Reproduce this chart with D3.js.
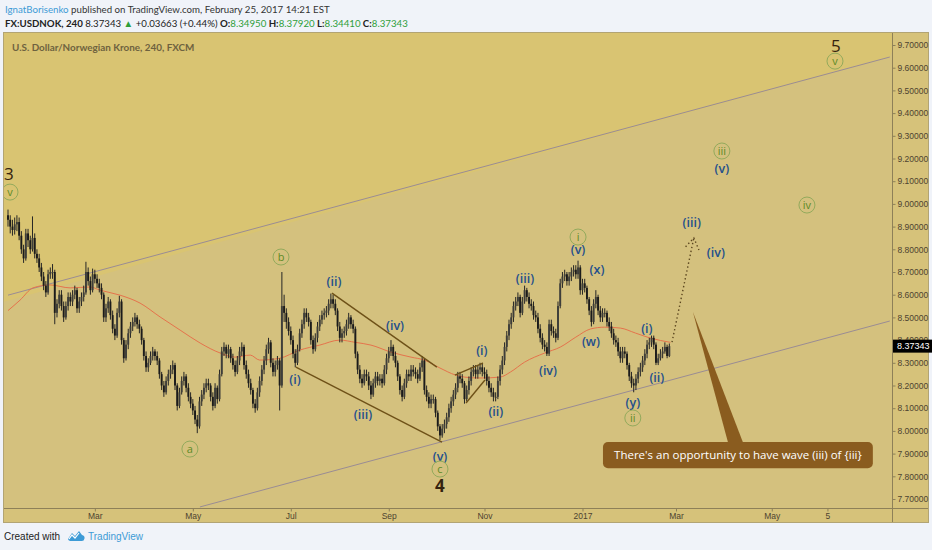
<!DOCTYPE html>
<html>
<head>
<meta charset="utf-8">
<script src="https://cdnjs.cloudflare.com/ajax/libs/d3/7.8.5/d3.min.js"></script>
<style>
  body { margin: 0; background: #f0f3f9; }
  svg { display: block; }
</style>
</head>
<body>
<div id="chart"></div>
<script>
// ---- data ----
// one daily bar per weekday, first bar 2016-01-06
var firstDay = "2016-01-06";
var lastDay = "2017-07-14";   // right edge of the time axis
var firstOpen = 8.95;

var closes = [
  8.93, 8.90, 8.885, 8.91, 8.92, 8.86, 8.80, 8.76, 8.87, 8.84,
  8.80, 8.85, 8.78, 8.76, 8.72, 8.68, 8.64, 8.61, 8.69, 8.70,
  8.70, 8.52, 8.56, 8.60, 8.55, 8.50, 8.55, 8.59, 8.57, 8.60,
  8.62, 8.54, 8.57, 8.59, 8.61, 8.70, 8.66, 8.62, 8.69, 8.67,
  8.65, 8.63, 8.60, 8.50, 8.54, 8.57, 8.51, 8.45, 8.42, 8.52,
  8.57, 8.40, 8.32, 8.38, 8.43, 8.46, 8.48, 8.50, 8.47, 8.45,
  8.40, 8.33, 8.28, 8.30, 8.33, 8.35, 8.33, 8.31, 8.25, 8.20,
  8.17, 8.22, 8.25, 8.27, 8.29, 8.20, 8.11, 8.17, 8.22, 8.24,
  8.19, 8.15, 8.12, 8.09, 8.05, 8.02, 8.13, 8.16, 8.19, 8.21,
  8.20, 8.15, 8.11, 8.19, 8.14, 8.25, 8.35, 8.37, 8.34, 8.36,
  8.32, 8.29, 8.26, 8.31, 8.35, 8.37, 8.29, 8.25, 8.21, 8.18,
  8.12, 8.10, 8.17, 8.22, 8.27, 8.31, 8.36, 8.39, 8.30, 8.26,
  8.29, 8.31, 8.20, 8.55, 8.52, 8.48, 8.44, 8.40, 8.34, 8.30,
  8.36, 8.43, 8.47, 8.52, 8.50, 8.48, 8.40, 8.36, 8.41, 8.46,
  8.49, 8.51, 8.52, 8.53, 8.56, 8.58, 8.56, 8.53, 8.46, 8.41,
  8.43, 8.44, 8.47, 8.50, 8.47, 8.45, 8.34, 8.27, 8.23, 8.21,
  8.25, 8.24, 8.20, 8.16, 8.21, 8.24, 8.22, 8.23, 8.21, 8.27,
  8.32, 8.35, 8.37, 8.33, 8.30, 8.24, 8.18, 8.15, 8.21, 8.25,
  8.24, 8.27, 8.26, 8.25, 8.23, 8.28, 8.31, 8.18, 8.15, 8.12,
  8.14, 8.14, 8.08, 8.02, 7.98, 8.01, 8.03, 8.06, 8.10, 8.13,
  8.16, 8.19, 8.24, 8.23, 8.21, 8.14, 8.18, 8.22, 8.26, 8.27,
  8.25, 8.27, 8.28, 8.26, 8.25, 8.22, 8.19, 8.17, 8.15, 8.15,
  8.22, 8.27, 8.31, 8.37, 8.42, 8.47, 8.50, 8.55, 8.57, 8.59,
  8.52, 8.57, 8.62, 8.59, 8.56, 8.55, 8.51, 8.50, 8.45, 8.41,
  8.38, 8.37, 8.34, 8.47, 8.44, 8.43, 8.41, 8.55, 8.65, 8.68,
  8.69, 8.66, 8.68, 8.70, 8.71, 8.69, 8.72, 8.62, 8.65, 8.63,
  8.58, 8.53, 8.48, 8.56, 8.59, 8.53, 8.50, 8.52, 8.52, 8.48,
  8.46, 8.43, 8.40, 8.39, 8.35, 8.32, 8.35, 8.34, 8.29, 8.24,
  8.21, 8.20, 8.23, 8.26, 8.28, 8.31, 8.34, 8.38, 8.39, 8.41,
  8.38, 8.30, 8.32, 8.34, 8.35, 8.37, 8.33, 8.37343
];

var highs = [
  8.975, 8.95, 8.93, 8.94, 8.95, 8.94, 8.88, 8.82, 8.89, 8.89,
  8.86, 8.945, 8.87, 8.80, 8.78, 8.74, 8.70, 8.66, 8.71, 8.72,
  8.735, 8.71, 8.58, 8.62, 8.62, 8.57, 8.57, 8.61, 8.61, 8.62,
  8.64, 8.63, 8.59, 8.61, 8.64, 8.745, 8.72, 8.68, 8.715, 8.71,
  8.69, 8.67, 8.65, 8.61, 8.56, 8.59, 8.58, 8.53, 8.47, 8.54,
  8.595, 8.58, 8.41, 8.40, 8.45, 8.48, 8.50, 8.52, 8.51, 8.49,
  8.46, 8.41, 8.35, 8.32, 8.35, 8.37, 8.36, 8.35, 8.32, 8.26,
  8.22, 8.24, 8.27, 8.29, 8.31, 8.30, 8.21, 8.19, 8.24, 8.26,
  8.25, 8.21, 8.17, 8.14, 8.11, 8.07, 8.15, 8.18, 8.21, 8.23,
  8.23, 8.21, 8.17, 8.21, 8.20, 8.27, 8.37, 8.39, 8.38, 8.38,
  8.37, 8.34, 8.31, 8.33, 8.37, 8.39, 8.38, 8.31, 8.27, 8.23,
  8.19, 8.14, 8.19, 8.24, 8.29, 8.33, 8.38, 8.41, 8.40, 8.32,
  8.31, 8.33, 8.32, 8.70, 8.60, 8.54, 8.50, 8.46, 8.42, 8.36,
  8.38, 8.45, 8.49, 8.54, 8.54, 8.52, 8.49, 8.42, 8.43, 8.48,
  8.51, 8.53, 8.54, 8.55, 8.58, 8.605, 8.60, 8.58, 8.54, 8.48,
  8.45, 8.46, 8.49, 8.52, 8.51, 8.49, 8.46, 8.35, 8.29, 8.25,
  8.27, 8.27, 8.26, 8.22, 8.23, 8.26, 8.26, 8.25, 8.25, 8.29,
  8.34, 8.37, 8.40, 8.38, 8.35, 8.31, 8.25, 8.20, 8.23, 8.27,
  8.27, 8.29, 8.29, 8.28, 8.27, 8.30, 8.33, 8.32, 8.20, 8.17,
  8.16, 8.16, 8.15, 8.09, 8.03, 8.03, 8.05, 8.08, 8.12, 8.15,
  8.18, 8.21, 8.26, 8.26, 8.25, 8.22, 8.20, 8.24, 8.28, 8.29,
  8.29, 8.29, 8.30, 8.30, 8.28, 8.27, 8.24, 8.21, 8.19, 8.17,
  8.24, 8.29, 8.33, 8.39, 8.44, 8.49, 8.52, 8.57, 8.59, 8.61,
  8.60, 8.59, 8.64, 8.63, 8.61, 8.58, 8.57, 8.53, 8.52, 8.47,
  8.43, 8.40, 8.39, 8.49, 8.49, 8.46, 8.45, 8.57, 8.67, 8.70,
  8.71, 8.70, 8.70, 8.72, 8.73, 8.73, 8.75, 8.73, 8.67, 8.67,
  8.64, 8.59, 8.55, 8.58, 8.62, 8.60, 8.55, 8.54, 8.54, 8.53,
  8.50, 8.48, 8.45, 8.42, 8.41, 8.37, 8.37, 8.37, 8.35, 8.30,
  8.26, 8.23, 8.25, 8.28, 8.30, 8.33, 8.36, 8.40, 8.41, 8.42,
  8.42, 8.39, 8.34, 8.36, 8.37, 8.39, 8.38, 8.385
];

var lows = [
  8.90, 8.87, 8.86, 8.865, 8.88, 8.84, 8.78, 8.74, 8.75, 8.81,
  8.78, 8.79, 8.76, 8.74, 8.70, 8.66, 8.62, 8.59, 8.60, 8.67,
  8.67, 8.47, 8.50, 8.54, 8.53, 8.48, 8.49, 8.53, 8.55, 8.55,
  8.58, 8.52, 8.52, 8.55, 8.57, 8.60, 8.64, 8.60, 8.61, 8.65,
  8.63, 8.61, 8.58, 8.48, 8.48, 8.52, 8.49, 8.43, 8.40, 8.41,
  8.50, 8.38, 8.30, 8.31, 8.36, 8.41, 8.44, 8.46, 8.45, 8.43,
  8.38, 8.31, 8.26, 8.26, 8.29, 8.31, 8.31, 8.29, 8.23, 8.18,
  8.15, 8.16, 8.20, 8.23, 8.25, 8.18, 8.09, 8.10, 8.16, 8.20,
  8.17, 8.13, 8.10, 8.07, 8.03, 7.99, 8.01, 8.11, 8.14, 8.17,
  8.18, 8.13, 8.09, 8.10, 8.12, 8.13, 8.24, 8.33, 8.32, 8.32,
  8.30, 8.27, 8.24, 8.25, 8.29, 8.33, 8.27, 8.23, 8.19, 8.16,
  8.10, 8.08, 8.09, 8.15, 8.20, 8.25, 8.29, 8.34, 8.28, 8.24,
  8.24, 8.27, 8.09, 8.19, 8.48, 8.45, 8.42, 8.38, 8.32, 8.28,
  8.29, 8.35, 8.41, 8.45, 8.48, 8.46, 8.38, 8.34, 8.35, 8.39,
  8.44, 8.47, 8.49, 8.50, 8.51, 8.54, 8.54, 8.51, 8.44, 8.39,
  8.39, 8.41, 8.42, 8.45, 8.45, 8.43, 8.32, 8.25, 8.21, 8.19,
  8.20, 8.22, 8.18, 8.14, 8.15, 8.19, 8.20, 8.20, 8.19, 8.20,
  8.25, 8.30, 8.33, 8.31, 8.28, 8.22, 8.16, 8.13, 8.14, 8.19,
  8.22, 8.22, 8.24, 8.23, 8.21, 8.22, 8.26, 8.16, 8.13, 8.10,
  8.10, 8.12, 8.06, 8.00, 7.96, 7.97, 7.99, 8.01, 8.04, 8.08,
  8.11, 8.14, 8.17, 8.21, 8.19, 8.12, 8.13, 8.16, 8.20, 8.24,
  8.23, 8.23, 8.25, 8.24, 8.23, 8.20, 8.17, 8.15, 8.13, 8.13,
  8.14, 8.20, 8.25, 8.29, 8.35, 8.40, 8.45, 8.48, 8.53, 8.55,
  8.50, 8.51, 8.56, 8.57, 8.54, 8.53, 8.49, 8.48, 8.43, 8.39,
  8.36, 8.35, 8.33, 8.33, 8.42, 8.41, 8.39, 8.40, 8.54, 8.63,
  8.66, 8.64, 8.64, 8.66, 8.68, 8.67, 8.67, 8.60, 8.60, 8.61,
  8.56, 8.51, 8.46, 8.47, 8.54, 8.51, 8.48, 8.48, 8.50, 8.46,
  8.44, 8.41, 8.38, 8.37, 8.33, 8.30, 8.30, 8.32, 8.27, 8.22,
  8.19, 8.17, 8.18, 8.21, 8.24, 8.26, 8.29, 8.32, 8.36, 8.37,
  8.36, 8.29, 8.29, 8.31, 8.32, 8.34, 8.32, 8.325
];

// moving average (red line), read at a handful of bars
var maBars   = [0, 5.4, 11.2, 18.9, 27.9, 36.9, 41.3, 50.3, 59.3, 68.3, 77.3, 86.3, 95.3, 102, 108.8,
                113, 122, 131, 140, 149, 156, 163, 172, 181, 187, 194, 201, 205, 212, 221,
                225.6, 232, 241, 248, 255, 261.6, 268, 275, 281.8, 288.5, 297.5];
var maValues = [8.53, 8.576, 8.63, 8.643, 8.63, 8.634, 8.62, 8.598, 8.563, 8.502, 8.444, 8.387, 8.343, 8.325, 8.334,
                8.312, 8.32, 8.356, 8.378, 8.40, 8.39, 8.378, 8.347, 8.325, 8.312, 8.277, 8.246, 8.237, 8.233, 8.237,
                8.259, 8.303, 8.343, 8.369, 8.413, 8.449, 8.457, 8.453, 8.431, 8.409, 8.39];

var priceTicks = [7.7, 7.8, 7.9, 8.0, 8.1, 8.2, 8.3, 8.4, 8.5, 8.6, 8.7, 8.8, 8.9, 9.0, 9.1, 9.2, 9.3, 9.4, 9.5, 9.6, 9.7];
var timeTicks = ["2016-03-01", "2016-05-02", "2016-07-01", "2016-09-01", "2016-11-01", "2017-01-02", "2017-03-01", "2017-05-01", "2017-06-05"];
var timeLabels = ["Mar", "May", "Jul", "Sep", "Nov", "2017", "Mar", "May", "5"];
var lastPrice = 8.37343;

// drawings, in [bar, price]
var channelUpper = [[0, 8.598], [396, 9.647]];
var channelLower = [[86.2, 7.665], [396, 8.484]];
var wedgeLines = [
  [[145.5, 8.607], [192.6, 8.281]],
  [[129.3, 8.281], [194.9, 7.951]],
  [[200.7, 8.246], [213.3, 8.299]],
  [[205.7, 8.123], [214.2, 8.224]]
];
var arrowPath = [[298.2, 8.391], [308.0, 8.850]];
var arrowHead = [[304.3, 8.811], [308.0, 8.850], [310.3, 8.797]];

// wave labels: text, bar, price
var blueLabels = [
  ["(ii)", 146.4, 8.660], ["(iv)", 173.8, 8.466], ["(i)", 128.9, 8.228], ["(iii)", 159.4, 8.074],
  ["(v)", 194, 7.889], ["(i)", 212.8, 8.356], ["(ii)", 219.1, 8.087], ["(iii)", 232.2, 8.673],
  ["(iv)", 242.5, 8.268], ["(v)", 256, 8.797], ["(x)", 264.5, 8.709], ["(w)", 261.8, 8.396],
  ["(i)", 286.9, 8.453], ["(ii)", 291.4, 8.237], ["(y)", 280.6, 8.123],
  ["(iii)", 307.1, 8.916], ["(iv)", 317.9, 8.788], ["(v)", 320.6, 9.158]
];
var circleLabels = [
  ["v", 0.9, 9.052], ["a", 81.7, 7.920], ["b", 122.6, 8.766], ["c", 194, 7.832],
  ["i", 256, 8.854], ["ii", 280.6, 8.057], ["iii", 320.6, 9.233], ["iv", 358.8, 8.995], ["v", 371.4, 9.629]
];
var degreeLabels = [["3", 0.4, 9.131, 400], ["4", 194, 7.757, 700], ["5", 371.8, 9.695, 400]];

var calloutText = "There's an opportunity to have wave (iii) of {iii}";
var calloutBox = [[267.2, 7.951], [388.4, 7.836]];
var calloutTip = [[323.3, 7.951], [307.6, 8.524], [330.0, 7.951]];

// ---- setup ----
var svgWidth = 932, svgHeight = 550;
var plot = { left: 4, right: 892, top: 33, bottom: 508 };

var svg = d3.select("#chart").append("svg")
  .attr("width", svgWidth)
  .attr("height", svgHeight);

var parseDay = d3.utcParse("%Y-%m-%d");
var fmtDay = d3.utcFormat("%Y-%m-%d");
var days = d3.utcDay.range(parseDay(firstDay), d3.utcDay.offset(parseDay(lastDay), 1))
  .filter(function(d) { return d.getUTCDay() !== 0 && d.getUTCDay() !== 6; });
var dayKeys = days.map(fmtDay);

var bars = closes.map(function(c, i) {
  return { i: i, o: i === 0 ? firstOpen : closes[i - 1], h: highs[i], l: lows[i], c: c };
});

// scales: bar index -> x, price -> y
var x = d3.scaleLinear().domain([0, dayKeys.length - 1]).range([8, 892]);
var y = d3.scaleLinear().domain([7.7, 9.7]).range([499, 45]);

var fontUI = "Lato, 'Open Sans', sans-serif";
var fontLbl = "'Open Sans', 'DejaVu Sans', sans-serif";
var fontAxis = "'Liberation Sans Narrow', 'Liberation Sans', Arial, sans-serif";

// ---- header ----
var head = svg.append("text").attr("x", 5).attr("y", 13)
  .style("font-family", fontUI).style("font-size", "9.7px").attr("fill", "#333");
head.append("tspan").attr("fill", "#3d9bd6").text("IgnatBorisenko");
head.append("tspan").text(" published on TradingView.com, February 25, 2017 14:21 EST");

var head2 = svg.append("text").attr("x", 5).attr("y", 27)
  .style("font-family", fontUI).style("font-size", "9.7px").attr("fill", "#222");
head2.append("tspan").style("font-weight", 700).text("FX:USDNOK, 240 ");
head2.append("tspan").text(" 8.37343 ");
head2.append("tspan").attr("fill", "#2e9e3a").text("\u25B2");
head2.append("tspan").text(" +0.03663 (+0.44%) ");
[["O:", "8.34950"], ["H:", "8.37920"], ["L:", "8.34410"], ["C:", "8.37343"]].forEach(function(p) {
  head2.append("tspan").style("font-weight", 700).text(" " + p[0]);
  head2.append("tspan").attr("fill", "#2e9e3a").text(p[1]);
});

// ---- panel ----
svg.append("rect").attr("x", 3.5).attr("y", 32.5).attr("width", 925).attr("height", 490)
  .attr("fill", "#d6c27a").attr("stroke", "#b2a474");

svg.append("defs").append("clipPath").attr("id", "plotClip")
  .append("rect").attr("x", plot.left).attr("y", plot.top)
  .attr("width", plot.right - plot.left).attr("height", plot.bottom - plot.top);

var chartGroup = svg.append("g").attr("clip-path", "url(#plotClip)");

chartGroup.append("rect").attr("x", plot.left).attr("y", plot.top)
  .attr("width", plot.right - plot.left).attr("height", plot.bottom - plot.top)
  .attr("fill", "#d4c17e");

// brighter area above the upper channel line
var topPrice = y.invert(plot.top - 2);
chartGroup.append("path")
  .attr("d", d3.line()([
    [x(channelUpper[0][0]) - 10, y(channelUpper[0][1] - 0.036)],
    [x(channelUpper[1][0]), y(channelUpper[1][1])],
    [x(channelUpper[1][0]) + 10, y(topPrice)],
    [x(channelUpper[0][0]) - 10, y(topPrice)]
  ]))
  .attr("fill", "#d9c472");

chartGroup.append("text").attr("x", 12).attr("y", 51)
  .style("font-family", fontUI).style("font-size", "9.9px").style("font-weight", 700)
  .attr("fill", "#6e623f").text("U.S. Dollar/Norwegian Krone, 240, FXCM");

var toXY = function(p) { return [x(p[0]), y(p[1])]; };

// channel lines
[channelUpper, channelLower].forEach(function(l) {
  chartGroup.append("path").attr("d", d3.line()(l.map(toXY)))
    .attr("stroke", "#9a8c94").attr("stroke-width", 1).attr("fill", "none");
});

// moving average
chartGroup.append("path")
  .datum(maBars.map(function(b, i) { return [b, maValues[i]]; }))
  .attr("d", d3.line().x(function(d) { return x(d[0]); }).y(function(d) { return y(d[1]); }).curve(d3.curveMonotoneX))
  .attr("stroke", "#e5734c").attr("stroke-width", 1).attr("fill", "none");

// candles
var candles = chartGroup.append("g").selectAll("g").data(bars).enter().append("g");
candles.append("line")
  .attr("x1", function(d) { return x(d.i); }).attr("x2", function(d) { return x(d.i); })
  .attr("y1", function(d) { return y(d.h); }).attr("y2", function(d) { return y(d.l); })
  .attr("stroke", "#262626").attr("stroke-width", 1);
candles.append("rect")
  .attr("x", function(d) { return x(d.i) - 0.95; })
  .attr("width", 1.9)
  .attr("y", function(d) { return y(Math.max(d.o, d.c)); })
  .attr("height", function(d) { return Math.max(1, Math.abs(y(d.o) - y(d.c))); })
  .attr("fill", function(d) { return d.c >= d.o ? "#3e3e3a" : "#1b1b1b"; });

// wedge lines
wedgeLines.forEach(function(l) {
  chartGroup.append("path").attr("d", d3.line()(l.map(toXY)))
    .attr("stroke", "#6e5118").attr("stroke-width", 1.4).attr("fill", "none");
});

// dotted projection arrow
chartGroup.append("path").attr("d", d3.line()(arrowPath.map(toXY)))
  .attr("stroke", "#5b461f").attr("stroke-width", 1.4).attr("stroke-dasharray", "1.4,2.6").attr("fill", "none");
chartGroup.append("path").attr("d", d3.line()(arrowHead.map(toXY)))
  .attr("stroke", "#5b461f").attr("stroke-width", 1.4).attr("stroke-dasharray", "1.4,2.6").attr("fill", "none");

// callout
var cb = calloutBox.map(toXY);
chartGroup.append("path").attr("d", d3.line()(calloutTip.map(toXY)) + "Z").attr("fill", "#8a5c1f");
chartGroup.append("rect").attr("x", cb[0][0]).attr("y", cb[0][1])
  .attr("width", cb[1][0] - cb[0][0]).attr("height", cb[1][1] - cb[0][1])
  .attr("rx", 5).attr("fill", "#8a5c1f");
chartGroup.append("text").attr("x", (cb[0][0] + cb[1][0]) / 2).attr("y", (cb[0][1] + cb[1][1]) / 2 + 4)
  .attr("text-anchor", "middle").style("font-family", fontLbl).style("font-size", "11.5px")
  .attr("fill", "#ffffff").text(calloutText);

// wave labels
chartGroup.selectAll(".blue").data(blueLabels).enter().append("text")
  .attr("x", function(d) { return x(d[1]); }).attr("y", function(d) { return y(d[2]) + 4.5; })
  .attr("text-anchor", "middle").style("font-family", fontLbl).style("font-size", "12.5px")
  .style("font-weight", 600).attr("fill", "#234f8c").text(function(d) { return d[0]; });

var circ = chartGroup.selectAll(".circ").data(circleLabels).enter().append("g")
  .attr("transform", function(d) { return "translate(" + x(d[1]) + "," + y(d[2]) + ")"; });
circ.append("circle").attr("r", 8).attr("fill", "none").attr("stroke", "#93aa5c").attr("stroke-width", 1);
circ.append("text").attr("y", 4).attr("text-anchor", "middle")
  .style("font-family", fontLbl).style("font-size", "11px").attr("fill", "#5d8a26")
  .text(function(d) { return d[0]; });

chartGroup.selectAll(".deg").data(degreeLabels).enter().append("text")
  .attr("x", function(d) { return x(d[1]); }).attr("y", function(d) { return y(d[2]) + 6; })
  .attr("text-anchor", "middle").style("font-family", fontLbl).style("font-size", "17px")
  .style("font-weight", function(d) { return d[3]; }).attr("fill", "#35230e")
  .text(function(d) { return d[0]; });

// ---- axes ----
svg.append("line").attr("x1", plot.right + 0.5).attr("x2", plot.right + 0.5)
  .attr("y1", plot.top).attr("y2", 522).attr("stroke", "#8e8058");
svg.append("line").attr("x1", plot.left).attr("x2", 928)
  .attr("y1", plot.bottom + 0.5).attr("y2", plot.bottom + 0.5).attr("stroke", "#8e8058");

var rightAxis = d3.axisRight(y).tickValues(priceTicks).tickFormat(d3.format(".5f")).tickSize(3).tickPadding(2);
var yAxis = svg.append("g").attr("transform", "translate(" + (plot.right + 0.5) + ",0)").call(rightAxis);
yAxis.select(".domain").remove();
yAxis.selectAll("line").attr("stroke", "#8e8058");
yAxis.selectAll("text").style("font-family", fontAxis).style("font-size", "8.5px").attr("fill", "#4d4230");

var tickBars = timeTicks.map(function(k) { return dayKeys.indexOf(k); });
var bottomAxis = d3.axisBottom(x).tickValues(tickBars)
  .tickFormat(function(d, i) { return timeLabels[i]; }).tickSize(3).tickPadding(1);
var xAxis = svg.append("g").attr("transform", "translate(0," + (plot.bottom + 0.5) + ")").call(bottomAxis);
xAxis.select(".domain").remove();
xAxis.selectAll("line").attr("stroke", "#8e8058");
xAxis.selectAll("text").style("font-family", fontAxis).style("font-size", "8.5px").attr("fill", "#4d4230");

// last price marker
svg.append("rect").attr("x", plot.right + 1).attr("y", y(lastPrice) - 6.5)
  .attr("width", 39).attr("height", 13).attr("fill", "#000");
svg.append("text").attr("x", plot.right + 5).attr("y", y(lastPrice) + 3)
  .style("font-family", fontAxis).style("font-size", "9px").attr("fill", "#fff")
  .text(d3.format(".5f")(lastPrice));

// ---- footer ----
svg.append("text").attr("x", 4).attr("y", 540)
  .style("font-family", fontAxis).style("font-size", "10px").attr("fill", "#222").text("Created with");
var logo = svg.append("g").attr("transform", "translate(67,530)");
logo.append("path").attr("d", "M1,9 L5,3 L8,6 L12,1 L15,5 A3,3 0 0 1 14,11 L3,11 A2.5,2.5 0 0 1 1,9 Z")
  .attr("fill", "#3d9bd6");
logo.append("path").attr("d", "M2,9 L5,5 L8,8 L12,3").attr("stroke", "#fff").attr("stroke-width", 1.2).attr("fill", "none");
svg.append("text").attr("x", 88).attr("y", 540)
  .style("font-family", fontAxis).style("font-size", "10px").attr("fill", "#3d9bd6").text("TradingView");
</script>
</body>
</html>
